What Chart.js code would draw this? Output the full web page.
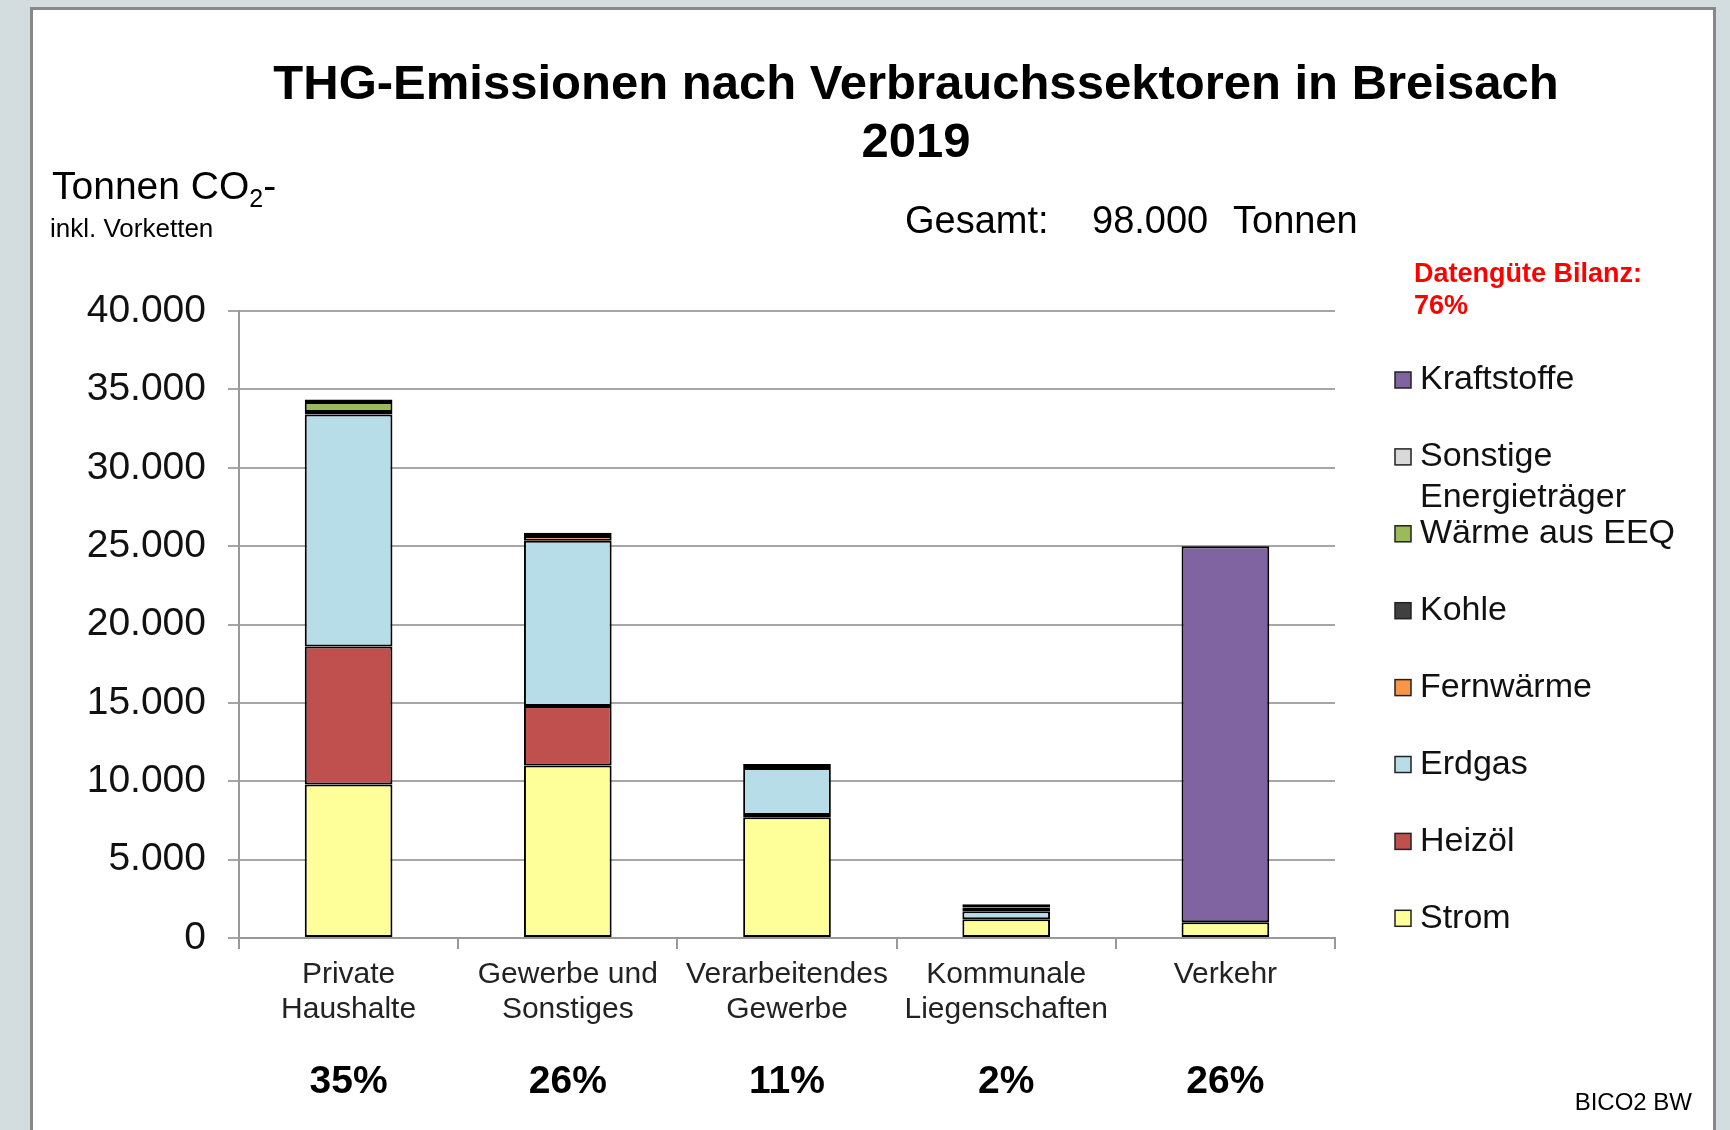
<!DOCTYPE html>
<html>
<head>
<meta charset="utf-8">
<script src="https://cdn.jsdelivr.net/npm/chart.js@4.4.1/dist/chart.umd.min.js"></script>
<style>
  html,body{margin:0;padding:0;background:#D3DCDF;}
  #wrap{position:relative;width:1730px;height:1130px;overflow:hidden;}
  #frame{position:absolute;left:30px;top:7px;width:1686px;height:1130px;background:#fff;border:3px solid #888;box-sizing:border-box;}
  #chart{position:absolute;left:0;top:0;}
</style>
</head>
<body>
<div id="wrap">
  <div id="frame"></div>
  <canvas id="chart" width="1730" height="1130"></canvas>
</div>
<script>
// Kategorien und Werte (Tonnen CO2)
const categories=[['Private','Haushalte'],['Gewerbe und','Sonstiges'],['Verarbeitendes','Gewerbe'],['Kommunale','Liegenschaften'],['Verkehr']];
const shares=['35%','26%','11%','2%','26%'];
const strom=[9800,11000,7700,1200,1000];
const heizoel=[8800,3800,150,0,0];
const erdgas=[14800,10550,3000,500,0];
const fernwaerme=[0,300,0,250,0];
const kohle=[150,200,250,200,0];
const waermeEEQ=[650,0,0,0,0];
const sonstige=[150,0,0,0,0];
const kraftstoffe=[0,0,0,0,24000];
const yTicks=[0,5000,10000,15000,20000,25000,30000,35000,40000];

const F='"Liberation Sans", Arial, sans-serif';
const fmt=v=>String(v).replace(/\B(?=(\d{3})+(?!\d))/g,'.');

const ds=(label,data,color)=>({label,data,backgroundColor:color,borderColor:'#000',borderWidth:2,borderSkipped:false,categoryPercentage:1,barPercentage:0.4});

// Texte, Legende und Prozentwerte
const decor={id:'decor',afterDraw(chart){
  const c=chart.ctx, x=chart.scales.x;
  c.save();
  c.fillStyle='#000';c.textBaseline='middle';
  c.textAlign='center';c.font='bold 49px '+F;
  c.fillText('THG-Emissionen nach Verbrauchssektoren in Breisach',916,85);
  c.fillText('2019',916,143);
  c.textAlign='left';
  c.font='39px '+F;
  c.fillText('Tonnen CO',52,188);
  let w=c.measureText('Tonnen CO').width;
  c.font='25px '+F;c.fillText('2',52+w,200);
  let w2=c.measureText('2').width;
  c.font='39px '+F;c.fillText('-',52+w+w2,188);
  c.font='26px '+F;c.fillText('inkl. Vorketten',50,230);
  c.font='38px '+F;
  c.fillText('Gesamt:',905,223);c.fillText('98.000',1092,223);c.fillText('Tonnen',1233,223);
  c.fillStyle='#FF0000';c.font='bold 27px '+F;
  c.fillText('Datengüte Bilanz:',1414,275);c.fillText('76%',1414,307);
  // Legende (umgekehrte Reihenfolge)
  const sets=chart.data.datasets.slice().reverse();
  sets.forEach((d,i)=>{
    const y=380+i*76.9;
    c.fillStyle=d.backgroundColor;c.fillRect(1395,y-8,16,16);
    c.strokeStyle='#222';c.lineWidth=1.5;c.strokeRect(1395,y-8,16,16);
    c.fillStyle='#111';c.font='34px '+F;
    d.label.split('\n').forEach((s,j)=>c.fillText(s,1420,y+j*41));
  });
  // Anteile
  c.textAlign='center';c.fillStyle='#000';c.font='bold 39px '+F;
  shares.forEach((s,i)=>c.fillText(s,x.getPixelForValue(i),1082));
  c.textAlign='right';c.font='24px '+F;
  c.fillText('BICO2 BW',1692,1103);
  c.restore();
}};

new Chart(document.getElementById('chart'),{type:'bar',
  data:{labels:categories,datasets:[
    ds('Strom',strom,'#FFFF99'),
    ds('Heizöl',heizoel,'#C0504D'),
    ds('Erdgas',erdgas,'#B7DEE8'),
    ds('Fernwärme',fernwaerme,'#F79646'),
    ds('Kohle',kohle,'#404040'),
    ds('Wärme aus EEQ',waermeEEQ,'#9BBB59'),
    ds('Sonstige\nEnergieträger',sonstige,'#D9D9D9'),
    ds('Kraftstoffe',kraftstoffe,'#8064A2')
  ]},
  options:{responsive:false,animation:false,
    layout:{padding:{top:311,right:395,left:0,bottom:0}},
    plugins:{legend:{display:false},tooltip:{enabled:false}},
    scales:{
      x:{stacked:true,
        grid:{drawOnChartArea:false,drawTicks:true,tickLength:11,color:'#999',lineWidth:2},
        border:{color:'#999',width:2},
        ticks:{font:{size:30,family:F,lineHeight:1.17},color:'#222',padding:8,maxRotation:0},
        afterFit:s=>{s.height=192;}},
      y:{stacked:true,min:0,max:40000,
        afterBuildTicks:s=>{s.ticks=yTicks.map(v=>({value:v}));},
        grid:{color:'#A6A6A6',lineWidth:2,tickLength:11},
        border:{color:'#999',width:2},
        ticks:{font:{size:39,family:F},color:'#111',padding:22,callback:v=>fmt(v)},
        afterFit:s=>{s.width=239;}}
    }
  },
  plugins:[decor]
});
</script>
</body>
</html>
